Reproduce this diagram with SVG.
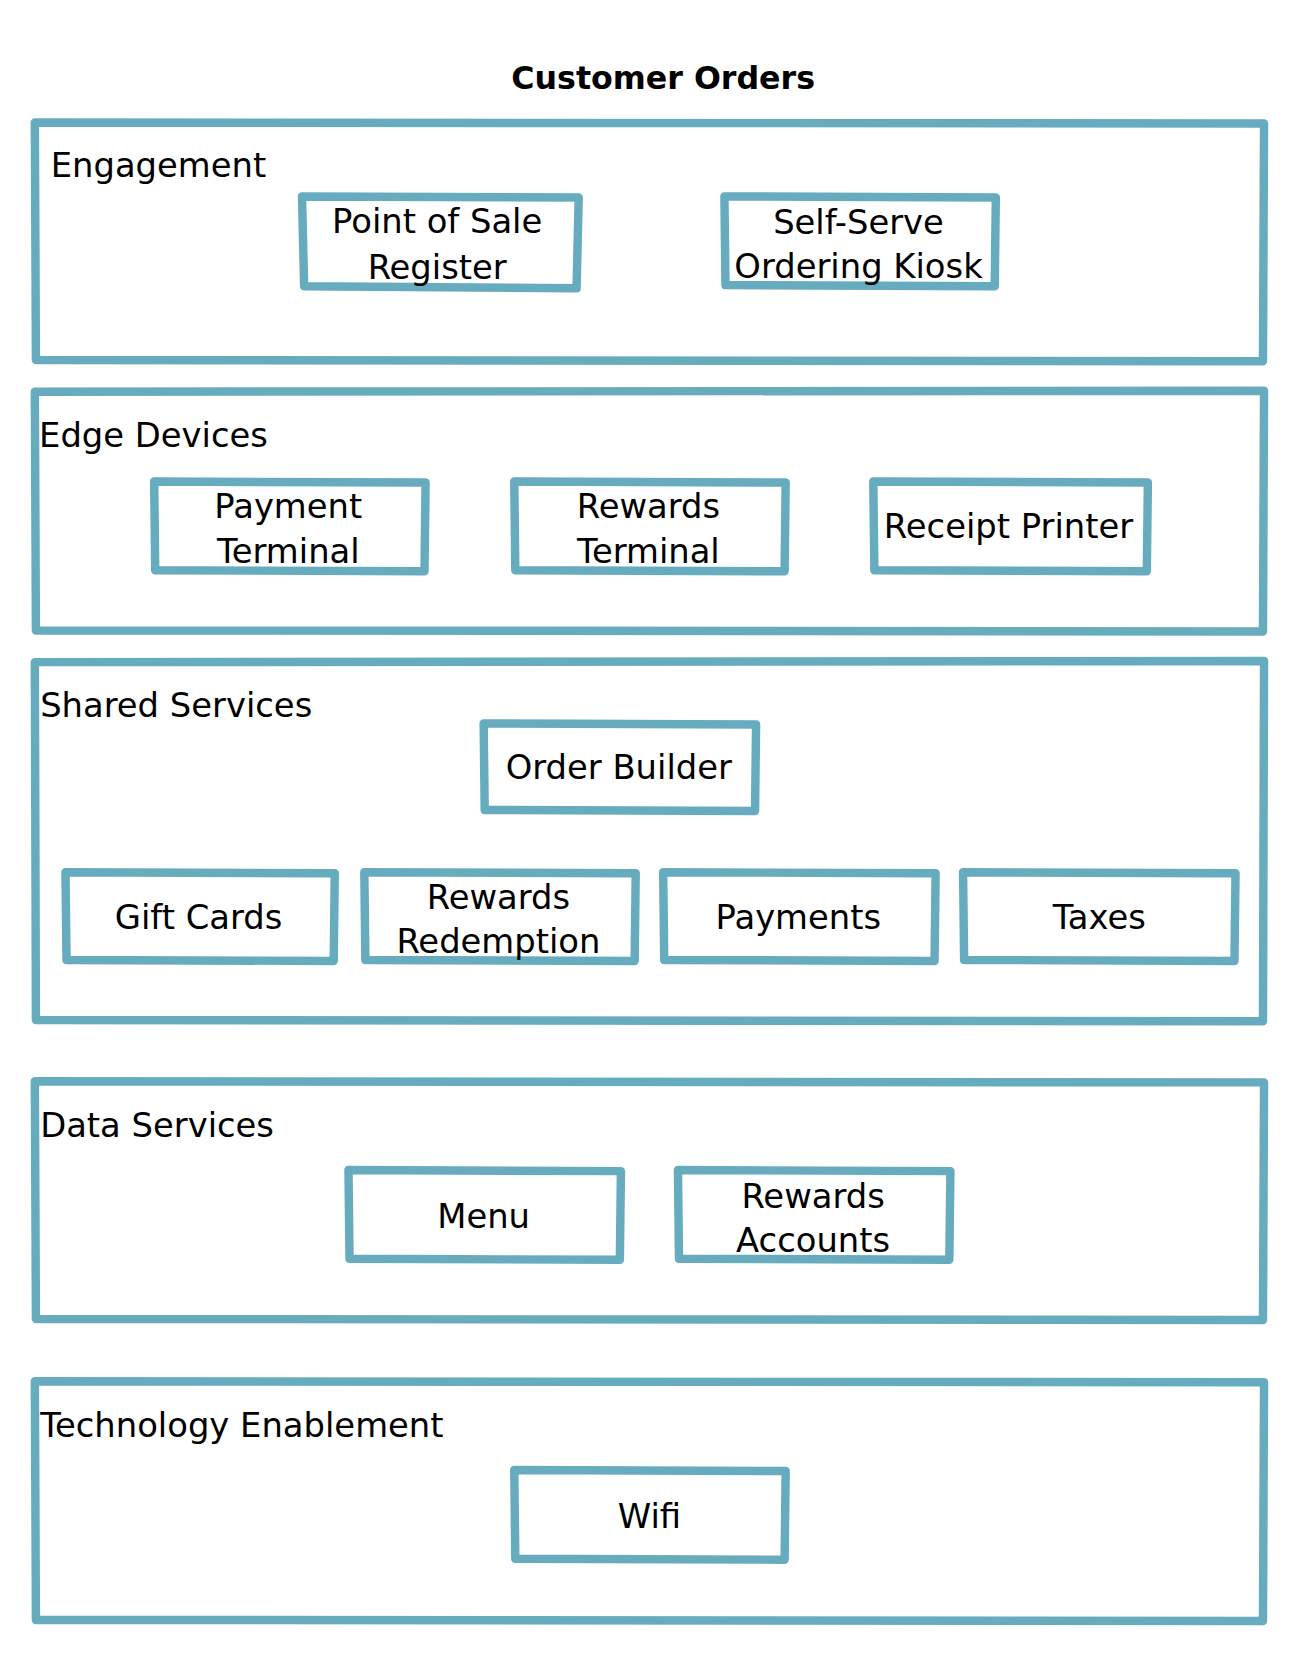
<svg xmlns="http://www.w3.org/2000/svg" width="1299" height="1656" viewBox="0 0 1299 1656">
<style>
.c{fill:none;stroke:#67abbf;stroke-width:8;stroke-linejoin:round}
.n{fill:#fff;stroke:#67abbf;stroke-width:8;stroke-linejoin:round}
text{font-family:"DejaVu Sans",sans-serif;font-size:32px;fill:#000}
.m{text-anchor:middle;dominant-baseline:central}
.t{font-weight:bold;font-size:30px}
</style>
<rect width="1299" height="1656" fill="#fff"/>
<g transform="scale(1.056)">
<text class="m t" x="628" y="74">Customer Orders</text>
<g id="engagement"><path class="c" d="M33 116 L1197 117 L1196 342 L34 341 Z"/><text x="48" y="168">Engagement</text></g>
<g id="pos"><path class="n" d="M286 186 L548 187 L546 273 L288 271 Z"/><text class="m" x="414" y="210">Point of Sale</text><text class="m" x="414" y="253">Register</text></g>
<g id="kiosk"><path class="n" d="M686 186 L943 187 L942 271 L687 270 Z"/><text class="m" x="813" y="211">Self-Serve</text><text class="m" x="813" y="252">Ordering Kiosk</text></g>
<g id="edge"><path class="c" d="M33 371 L1197 370 L1196 598 L34 597 Z"/><text x="37" y="423">Edge Devices</text></g>
<g id="payterm"><path class="n" d="M146 456 L403 457 L402 541 L147 540 Z"/><text class="m" x="273" y="480">Payment</text><text class="m" x="273" y="522">Terminal</text></g>
<g id="rewterm"><path class="n" d="M487 456 L744 457 L743 541 L488 540 Z"/><text class="m" x="614" y="480">Rewards</text><text class="m" x="614" y="522">Terminal</text></g>
<g id="printer"><path class="n" d="M827 456 L1087 457 L1086 541 L828 540 Z"/><text class="m" x="955" y="499">Receipt Printer</text></g>
<g id="shared"><path class="c" d="M33 627 L1197 626 L1196 967 L34 966 Z"/><text x="38" y="679">Shared Services</text></g>
<g id="orderbuilder"><path class="n" d="M458 685 L716 686 L715 768 L459 767 Z"/><text class="m" x="586" y="727">Order Builder</text></g>
<g id="giftcards"><path class="n" d="M62 826 L317 827 L316 910 L63 909 Z"/><text class="m" x="188" y="869">Gift Cards</text></g>
<g id="redemption"><path class="n" d="M345 826 L602 827 L601 910 L346 909 Z"/><text class="m" x="472" y="850">Rewards</text><text class="m" x="472" y="892">Redemption</text></g>
<g id="payments"><path class="n" d="M628 826 L886 827 L885 910 L629 909 Z"/><text class="m" x="756" y="869">Payments</text></g>
<g id="taxes"><path class="n" d="M912 826 L1170 827 L1169 910 L913 909 Z"/><text class="m" x="1041" y="869">Taxes</text></g>
<g id="data"><path class="c" d="M33 1024 L1197 1025 L1196 1250 L34 1249 Z"/><text x="38" y="1077">Data Services</text></g>
<g id="menu"><path class="n" d="M330 1108 L588 1109 L587 1193 L331 1192 Z"/><text class="m" x="458" y="1152">Menu</text></g>
<g id="accounts"><path class="n" d="M642 1108 L900 1109 L899 1193 L643 1192 Z"/><text class="m" x="770" y="1133">Rewards</text><text class="m" x="770" y="1175">Accounts</text></g>
<g id="tech"><path class="c" d="M33 1308 L1197 1309 L1196 1535 L34 1534 Z"/><text x="38" y="1361">Technology Enablement</text></g>
<g id="wifi"><path class="n" d="M487 1392 L744 1393 L743 1477 L488 1476 Z"/><text class="m" x="615" y="1436">Wifi</text></g>
<g id="connectors"/>
</g>
</svg>
